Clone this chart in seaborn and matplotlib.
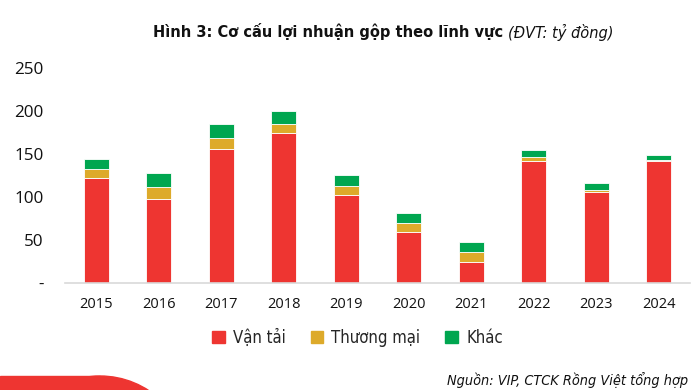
import matplotlib
matplotlib.use("Agg")
import matplotlib.pyplot as plt
import seaborn as sns
import pandas as pd
from matplotlib.patches import Rectangle, Circle

years = ["2015", "2016", "2017", "2018", "2019", "2020", "2021", "2022", "2023", "2024"]
van_tai = [122, 97, 156, 174, 102, 59, 24, 141, 106, 141]
thuong_mai = [10, 14, 12, 11, 10, 10, 12, 5, 1.5, 2]
khac = [12, 16, 17, 15, 13, 12, 11, 8, 8, 5.5]
series_names = ["Vận tải", "Thương mại", "Khác"]
colors = ["#EE3531", "#DDAA2A", "#00A650"]
y_ticks = [0, 50, 100, 150, 200, 250]
y_labels = ["-", "50", "100", "150", "200", "250"]

sns.set_theme(style="white")
plt.rcParams["font.family"] = ["Open Sans", "DejaVu Sans"]
NARROW = ["DejaVu Sans", "Open Sans"]
STRETCH = "condensed"

df = pd.DataFrame({"year": years, "vt": van_tai, "tm": thuong_mai, "kh": khac})
df["b2"] = df["vt"] + df["tm"]

fig = plt.figure(figsize=(6.97, 3.90), dpi=100)
ax = fig.add_axes([65 / 697, 107.3 / 390, 625 / 697, 215 / 390])

common = dict(width=0.4, edgecolor="white", linewidth=0.6, saturation=1, ax=ax)
sns.barplot(data=df, x="year", y="vt", color=colors[0], **common)
sns.barplot(data=df, x="year", y="tm", bottom=df["vt"], color=colors[1], **common)
sns.barplot(data=df, x="year", y="kh", bottom=df["b2"], color=colors[2], **common)

ax.set_xlim(-0.5, 9.5)
ax.set_ylim(0, 250)
ax.set_yticks(y_ticks)
ax.set_yticklabels(y_labels, fontsize=12.3, color="#111111")
ax.set_xlabel("")
ax.set_ylabel("")
ax.tick_params(axis="x", labelsize=10.5, colors="#111111", pad=10, length=0)
ax.tick_params(axis="y", pad=15.5, length=0)
for s in ["top", "right", "left"]:
    ax.spines[s].set_visible(False)
ax.spines["bottom"].set_color("#D9D9D9")
ax.spines["bottom"].set_linewidth(1.2)

renderer = fig.canvas.get_renderer()

# Title (bold part + italic part), centred as a whole
ty = 1 - 32 / 390
t1 = fig.text(0, ty, "Hình 3: Cơ cấu lợi nhuận gộp theo lĩnh vực ",
              ha="left", va="center", fontsize=11.7, fontweight="bold",
              family=NARROW, fontstretch=STRETCH, color="#111111")
t2 = fig.text(0, ty, "(ĐVT: tỷ đồng)", ha="left", va="center", fontsize=11.7,
              fontstyle="italic", family=NARROW, fontstretch=STRETCH, color="#111111")
w1 = t1.get_window_extent(renderer).width
w2 = t2.get_window_extent(renderer).width
x0 = 383 - (w1 + w2) / 2
t1.set_x(x0 / 697)
t2.set_x((x0 + w1) / 697)

# Legend
handles = [Rectangle((0, 0), 1, 1, color=c) for c in colors]
leg = fig.legend(handles, series_names, loc="center", bbox_to_anchor=(357.5 / 697, 1 - 338 / 390),
                 ncol=3, frameon=False, handlelength=0.75, handleheight=0.75,
                 handletextpad=0.5, columnspacing=1.5,
                 prop={"family": NARROW, "size": 12, "stretch": STRETCH})

# Source
fig.text(688 / 697, 1 - 380 / 390, "Nguồn: VIP, CTCK Rồng Việt tổng hợp",
         ha="right", va="center", fontsize=10.4, fontstyle="italic",
         family=NARROW, fontstretch=STRETCH, color="#111111")

# decorative red shape bottom-left
fig.patches.append(Rectangle((0, 0), 100, 14, transform=None, color="#EE3531", zorder=0))
fig.patches.append(Circle((100, -75), 89, transform=None, color="#EE3531", zorder=0))

fig.savefig("out.png", dpi=100)
